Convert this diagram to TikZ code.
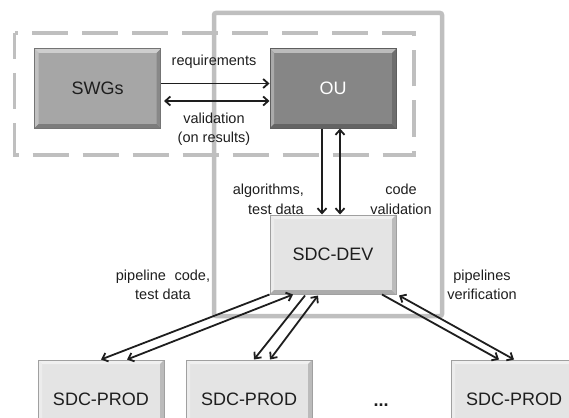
\documentclass[tikz,border=0pt]{standalone}
\usepackage{fontspec}
\setmainfont{Liberation Sans}
\usetikzlibrary{arrows.meta,calc}
\definecolor{frame}{HTML}{BFBFBF}
\definecolor{lightbox}{HTML}{E4E4E4}
\definecolor{midbox}{HTML}{A6A6A6}
\definecolor{darkbox}{HTML}{868686}
\definecolor{ink}{HTML}{1E1E1E}
\tikzset{
  boxbase/.style={minimum width=126pt,minimum height=79pt,inner sep=0pt,
    font=\fontsize{18}{20}\selectfont,draw=#1!70!black,line width=1pt,fill=#1,
    path picture={
      \fill[#1!55!white] (path picture bounding box.north west) -- (path picture bounding box.north east)
        -- ([shift={(-4pt,-4pt)}]path picture bounding box.north east) -- ([shift={(4pt,-4pt)}]path picture bounding box.north west) -- cycle;
      \fill[#1!70!white] (path picture bounding box.north west) -- (path picture bounding box.south west)
        -- ([shift={(4pt,4pt)}]path picture bounding box.south west) -- ([shift={(4pt,-4pt)}]path picture bounding box.north west) -- cycle;
      \fill[#1!75!black] (path picture bounding box.south east) -- (path picture bounding box.south west)
        -- ([shift={(4pt,4pt)}]path picture bounding box.south west) -- ([shift={(-4pt,4pt)}]path picture bounding box.south east) -- cycle;
      \fill[#1!82!black] (path picture bounding box.south east) -- (path picture bounding box.north east)
        -- ([shift={(-4pt,-4pt)}]path picture bounding box.north east) -- ([shift={(-4pt,4pt)}]path picture bounding box.south east) -- cycle;
    }},
  lbox/.style={boxbase=lightbox,text=ink},
  mbox/.style={boxbase=midbox,text=ink},
  dbox/.style={boxbase=darkbox,text=white},
  tip/.style={Straight Barb[length=5pt,width=9pt]},
  arr/.style={draw=ink,line width=1.8pt,-{Straight Barb[length=5pt,width=9pt]}},
  darr/.style={draw=ink,line width=1.8pt,{Straight Barb[length=5pt,width=9pt]}-{Straight Barb[length=5pt,width=9pt]}},
  lbl/.style={font=\fontsize{14.5}{19.5}\selectfont,text=ink,inner sep=0pt,align=center},
}
\begin{document}
\begin{tikzpicture}[x=1pt,y=-1pt]
\useasboundingbox (0,0) rectangle (569,417);
% frames
\draw[frame,line width=4.5pt,rounded corners=2pt] (214,13) rectangle (442,316);
\draw[frame,line width=3.6pt,dash pattern=on 36pt off 14pt,dash phase=10pt] (14.5,33) rectangle (414,155);
% boxes
\node[mbox] (swg) at (97.5,88.5) {SWGs};
\node[dbox] (ou) at (333,88.5) {OU};
\node[lbox] (dev) at (333,254.5) {SDC-DEV};
\node[lbox] (p1) at (101,399.5) {SDC-PROD};
\node[lbox] (p2) at (249,399.5) {SDC-PROD};
\node[lbox] (p3) at (514,399.5) {SDC-PROD};
\node[font=\fontsize{18}{20}\selectfont\bfseries,text=ink] (dots) at (381,405) {...};
% SWG <-> OU
\draw[arr] ($(swg.east)+(0,-5)$) -- ($(ou.west)+(0,-5)$);
\draw[darr] ($(swg.east)+(3,12.5)$) -- ($(ou.west)+(0,12.5)$);
\node[lbl] (req) at (214,62) {requirements};
\node[lbl] (val) at (214,129) {validation\\(on results)};
% OU <-> DEV
\draw[arr] ($(ou.south)+(-11,0)$) -- ($(dev.north)+(-11,0)$);
\draw[darr] ($(ou.south)+(7,0)$) -- ($(dev.north)+(7,0)$);
\node[lbl,anchor=east,align=right] (alg) at (304,199.5) {algorithms,\\test data};
\node[lbl] (cv) at (401,199.5) {code\\validation};
% DEV <-> PROD
\draw[arr] (dev.south west) -- (p1.north);
\draw[darr] ($(p1.north)+(26,0)$) -- ($(dev.south)+(-40,0)$);
\draw[arr] ($(dev.south)+(-28,1)$) -- ($(p2.north)+(5,0)$);
\draw[darr] ($(dev.south)+(-15,1)$) -- ($(p2.north)+(21,0)$);
\draw[arr] ($(dev.south)+(49,0)$) -- ($(p3.north)+(-15,0)$);
\draw[darr] ($(dev.south)+(66,1)$) -- (p3.north);
\node[lbl] (pc) at (163,285) {pipeline\hspace{0.6em}code,\\test data};
\node[lbl] (pv) at (482,285) {pipelines\\verification};
\end{tikzpicture}
\end{document}
